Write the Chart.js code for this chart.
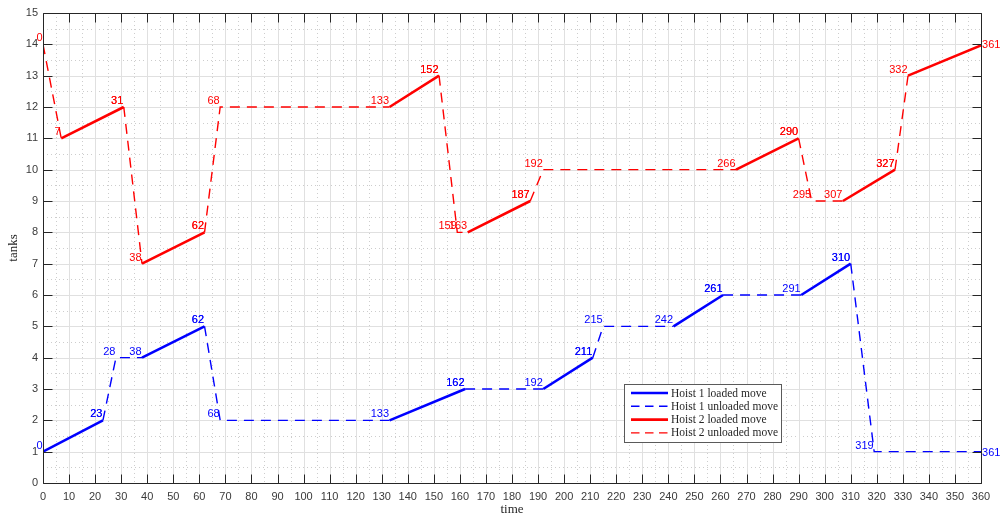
<!DOCTYPE html>
<html><head><meta charset="utf-8">
<script src="https://cdn.jsdelivr.net/npm/chart.js@4.4.0/dist/chart.umd.min.js"></script>
<style>html,body{margin:0;padding:0;background:#fff;}#wrap{width:1002px;height:518px;}</style>
</head><body><div id="wrap"><canvas id="c" width="1002" height="518"></canvas></div>
<script>
// ---- data ----
const h1Time   = [0,23,28,38,62,68,133,162,192,211,215,242,261,291,310,319,361];
const h1Tank   = [1, 2, 4, 4, 5, 2,  2,  3,  3,  4,  5,  5,  6,  6,  7,  1,  1];
const h1Loaded = [1, 0, 0, 1, 0, 0,  1,  0,  1,  0,  0,  1,  0,  1,  0,  0];   // per move i -> i+1
const h2Time   = [0, 7,31,38,62,68,133,152,159,163,187,192,266,290,295,307,327,332,361];
const h2Tank   = [14,11,12,7, 8,12, 12, 13,  8,  8,  9, 10, 10, 11,  9,  9, 10, 13, 14];
const h2Loaded = [0, 1, 0, 1, 0, 0,  1,  0,  0,  1,  0,  0,  1,  0,  0,  1,  0,  1];
const seriesNames = ['Hoist 1 loaded move','Hoist 1 unloaded move','Hoist 2 loaded move','Hoist 2 unloaded move'];
const xRange = [0, 360, 10];
const yRange = [0, 15, 1];
const xTitle = 'time';
const yTitle = 'tanks';

function buildSeries(t, k, loaded, type) {
  const data = [];
  let prevEnd = -1;
  for (let i = 0; i < loaded.length; i++) {
    if (loaded[i] !== type) continue;
    if (prevEnd !== i) {
      if (data.length) data.push({x: t[i], y: null});
      data.push({x: t[i], y: k[i]});
    }
    data.push({x: t[i+1], y: k[i+1]});
    prevEnd = i + 1;
  }
  return data;
}

const BLUE = '#0000ff', RED = '#ff0000', AX = '#262626', TICK = '#3a3a3a';
const DASH = [10, 7];

const datasets = [
  {label: seriesNames[0], data: buildSeries(h1Time,h1Tank,h1Loaded,1), borderColor: BLUE, borderWidth: 2.6, borderDash: []},
  {label: seriesNames[1], data: buildSeries(h1Time,h1Tank,h1Loaded,0), borderColor: BLUE, borderWidth: 1.4, borderDash: DASH},
  {label: seriesNames[2], data: buildSeries(h2Time,h2Tank,h2Loaded,1), borderColor: RED, borderWidth: 2.6, borderDash: []},
  {label: seriesNames[3], data: buildSeries(h2Time,h2Tank,h2Loaded,0), borderColor: RED, borderWidth: 1.4, borderDash: DASH},
].map(d => Object.assign(d, {pointRadius: 0, spanGaps: false, tension: 0, fill: false, borderCapStyle: 'butt', borderJoinStyle: 'miter'}));

const pa = v => Math.round(v) + 0.5;

const axesPlugin = {
  id: 'matlabAxes',
  beforeDatasetsDraw(chart) {
    const {ctx, chartArea: a, scales: {x: xs, y: ys}} = chart;
    ctx.save();
    ctx.lineWidth = 1;
    // minor dotted grid
    ctx.strokeStyle = '#cdcdcd';
    ctx.setLineDash([1, 3]);
    ctx.beginPath();
    for (let v = xRange[0] + xRange[2]/2; v < xRange[1]; v += xRange[2]) {
      const px = pa(xs.getPixelForValue(v));
      ctx.moveTo(px, a.top); ctx.lineTo(px, a.bottom);
    }
    for (let v = yRange[0] + yRange[2]/2; v < yRange[1]; v += yRange[2]) {
      const py = pa(ys.getPixelForValue(v));
      ctx.moveTo(a.left, py); ctx.lineTo(a.right, py);
    }
    ctx.stroke();
    // major grid
    ctx.setLineDash([]);
    ctx.strokeStyle = '#e0e0e0';
    ctx.beginPath();
    for (let v = xRange[0] + xRange[2]; v < xRange[1]; v += xRange[2]) {
      const px = pa(xs.getPixelForValue(v));
      ctx.moveTo(px, a.top); ctx.lineTo(px, a.bottom);
    }
    for (let v = yRange[0] + yRange[2]; v < yRange[1]; v += yRange[2]) {
      const py = pa(ys.getPixelForValue(v));
      ctx.moveTo(a.left, py); ctx.lineTo(a.right, py);
    }
    ctx.stroke();
    ctx.restore();
  },
  afterDatasetsDraw(chart) {
    const {ctx, chartArea: a, scales: {x: xs, y: ys}} = chart;
    ctx.save();
    ctx.setLineDash([]);
    ctx.strokeStyle = AX;
    ctx.lineWidth = 1;
    const L = pa(a.left), R = pa(a.right), T = pa(a.top), B = pa(a.bottom);
    ctx.beginPath();
    ctx.rect(L, T, R - L, B - T);
    const tl = 9;
    for (let v = xRange[0]; v <= xRange[1]; v += xRange[2]) {
      const px = pa(xs.getPixelForValue(v));
      ctx.moveTo(px, B); ctx.lineTo(px, B - tl);
      ctx.moveTo(px, T); ctx.lineTo(px, T + tl);
    }
    for (let v = yRange[0]; v <= yRange[1]; v += yRange[2]) {
      const py = pa(ys.getPixelForValue(v));
      ctx.moveTo(L, py); ctx.lineTo(L + tl, py);
      ctx.moveTo(R, py); ctx.lineTo(R - tl, py);
    }
    ctx.stroke();

    // point labels (time at each point)
    ctx.font = '11px "Liberation Sans", Arial, sans-serif';
    const drawLabels = (t, k, loaded, color) => {
      ctx.fillStyle = color;
      for (let i = 0; i < t.length; i++) {
        const px = xs.getPixelForValue(t[i]);
        const py = ys.getPixelForValue(k[i]);
        const last = i === t.length - 1;
        if (last) {
          ctx.textAlign = 'left'; ctx.textBaseline = 'middle';
          ctx.fillText(String(t[i]), px - 1.5, py + 1);
        } else {
          ctx.textAlign = 'right'; ctx.textBaseline = 'alphabetic';
          ctx.fillText(String(t[i]), px - 0.5, py - 3);
          if (i > 0 && loaded[i-1] === 1) ctx.fillText(String(t[i]), px - 0.5, py - 3);
        }
      }
    };
    drawLabels(h1Time, h1Tank, h1Loaded, BLUE);
    drawLabels(h2Time, h2Tank, h2Loaded, RED);

    // axis titles
    ctx.fillStyle = AX;
    ctx.font = '13px "Liberation Serif", "Times New Roman", serif';
    ctx.textAlign = 'center'; ctx.textBaseline = 'middle';
    ctx.fillText(xTitle, (a.left + a.right) / 2, 510);
    ctx.save();
    ctx.translate(14, (a.top + a.bottom) / 2);
    ctx.rotate(-Math.PI / 2);
    ctx.fillText(yTitle, 0, 0);
    ctx.restore();

    // legend
    const bx = 624.5, by = 384.5, bw = 157, bh = 58;
    ctx.fillStyle = '#ffffff';
    ctx.fillRect(bx, by, bw, bh);
    ctx.strokeStyle = '#5a5a5a';
    ctx.lineWidth = 1;
    ctx.strokeRect(bx, by, bw, bh);
    ctx.font = '11.5px "Liberation Serif", "Times New Roman", serif';
    ctx.textAlign = 'left'; ctx.textBaseline = 'middle';
    chart.data.datasets.forEach((ds, i) => {
      const ry = 393 + i * 13.3;
      ctx.save();
      ctx.strokeStyle = ds.borderColor;
      ctx.lineWidth = ds.borderWidth;
      ctx.setLineDash(ds.borderDash.length ? [8.5, 5.5] : []);
      ctx.beginPath();
      ctx.moveTo(631, ry); ctx.lineTo(668, ry);
      ctx.stroke();
      ctx.restore();
      ctx.fillStyle = AX;
      ctx.fillText(ds.label, 671, ry + 0.5);
    });
    ctx.restore();
  }
};

new Chart(document.getElementById('c'), {
  type: 'line',
  data: {datasets},
  options: {
    responsive: false,
    animation: false,
    events: [],
    layout: {padding: {top: 13, right: 21, left: 0, bottom: 0}},
    plugins: {legend: {display: false}, tooltip: {enabled: false}},
    scales: {
      x: {
        type: 'linear', min: xRange[0], max: xRange[1],
        ticks: {stepSize: xRange[2], color: TICK, font: {family: '"Liberation Sans", Arial, sans-serif', size: 11}, padding: 7, maxRotation: 0, autoSkip: false},
        grid: {display: false, drawTicks: false},
        border: {display: false},
        afterFit: s => { s.height = 35; }
      },
      y: {
        type: 'linear', min: yRange[0], max: yRange[1],
        ticks: {stepSize: yRange[2], color: TICK, font: {family: '"Liberation Sans", Arial, sans-serif', size: 11}, padding: 5},
        grid: {display: false, drawTicks: false},
        border: {display: false},
        afterFit: s => { s.width = 43; }
      }
    }
  },
  plugins: [axesPlugin]
});
</script>
</body></html>
